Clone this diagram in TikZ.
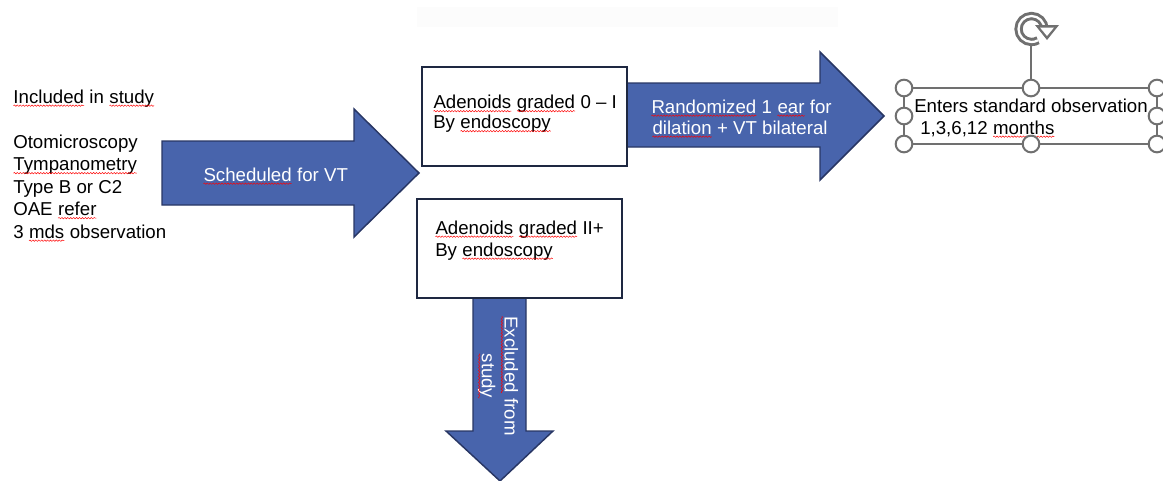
\documentclass[tikz,border=0pt]{standalone}
\usepackage{fontspec}
\setmainfont{Liberation Sans}
\usetikzlibrary{decorations.pathmorphing}
\definecolor{arrowblue}{RGB}{72,100,172}
\definecolor{arrowedge}{RGB}{40,54,100}
\definecolor{boxedge}{RGB}{30,40,65}
\definecolor{handlegray}{RGB}{112,112,112}
\definecolor{bandgray}{RGB}{252,252,252}
\newcommand\sq[1]{\tikz[baseline=(sqw.base),reset cm]{\node[inner sep=0pt,outer sep=0pt,draw=none,fill=none,anchor=base,rotate=0](sqw){#1};\draw[red,line width=0.35pt,decorate,decoration={snake,amplitude=0.55pt,segment length=2.2pt}]([yshift=-2pt]sqw.base west)--([yshift=-2pt]sqw.base east);}}
\begin{document}
\begin{tikzpicture}[x=0.75pt,y=-0.75pt,
  txt/.style={font=\fontsize{14}{17}\selectfont, inner sep=0pt, anchor=base west, text=black},
  wtxt/.style={font=\fontsize{14}{17}\selectfont, inner sep=0pt, anchor=base west, text=white},
  blockarrow/.style={fill=arrowblue, draw=arrowedge, line width=1.1pt, line join=miter},
  whitebox/.style={fill=white, draw=boxedge, line width=1.2pt},
  handle/.style={circle, fill=white, draw=handlegray, line width=1.5pt, minimum size=12.5pt, inner sep=0pt},
  selframe/.style={draw=handlegray, line width=0.9pt}]
\useasboundingbox (0,0) rectangle (1163,480);
\fill[bandgray] (417,7) rectangle (838,27);

% left text block
\node[txt] (inc) at (13,103) {\sq{Included} in \sq{study}};
\node[txt] (oto) at (13,148) {Otomicroscopy};
\node[txt] (tym) at (13,170.5) {\sq{Tympanometry}};
\node[txt] (typ) at (13,193) {Type B or C2};
\node[txt] (oae) at (13,215.5) {OAE \sq{refer}};
\node[txt] (mds) at (13,238) {3 \sq{mds} observation};

% arrow 1
\path[blockarrow] (162,141) -- (354,141) -- (354,109) -- (419,173) -- (354,237) -- (354,205) -- (162,205) -- cycle;
\node[wtxt] (sched) at (203,181) {\sq{Scheduled} for VT};

% arrow 2 (behind box 1)
\path[blockarrow] (620,83) -- (820,83) -- (820,52) -- (884,116) -- (820,180) -- (820,147) -- (620,147) -- cycle;
\node[wtxt] (rand1) at (651,113) {\sq{Randomized} 1 \sq{ear} for};
\node[wtxt] (rand2) at (652,134) {\sq{dilation} + VT bilateral};

% arrow 3 (behind box 2)
\path[blockarrow] (473,292) -- (473,431) -- (446,431) -- (500,481) -- (553,431) -- (526,431) -- (526,292) -- cycle;
\node[font=\fontsize{14}{17}\selectfont, text=white, inner sep=0pt, align=center, rotate=-90] (excl) at (498,376) {\sq{Excluded} from\\\sq{study}};

% box 1
\draw[whitebox] (422,67) rectangle (627,166);
\node[txt] (b1a) at (433,108.5) {\sq{Adenoids} \sq{graded} 0 -- I};
\node[txt] (b1b) at (433,128.5) {By \sq{endoscopy}};

% box 2
\draw[whitebox] (417,199) rectangle (622,298);
\node[txt] (b2a) at (435,234) {\sq{Adenoids} \sq{graded} II+};
\node[txt] (b2b) at (435,256) {By \sq{endoscopy}};

% selected text box
\draw[selframe] (904,88) rectangle (1157,144);
\node[txt] (ent1) at (914,112) {Enters standard observation};
\node[txt] (ent2) at (920,134) {1,3,6,12 \sq{months}};
\draw[handlegray, line width=1pt] (1031,46) -- (1031,88);
\foreach \hx/\hy [count=\i] in {904/88,1031/88,1157/88,904/116,1157/116,904/144,1031/144,1157/144}
  \node[handle] (h\i) at (\hx,\hy) {};
% rotation handle icon
\draw[handlegray, line width=6.2pt] (1044.5,29) arc[start angle=0, end angle=-300, radius=13];
\draw[white, line width=1.7pt] (1044.5,29) arc[start angle=0, end angle=-300, radius=13];
\fill[handlegray] (1035,25) -- (1059,25) -- (1047,40) -- cycle;
\fill[white] (1040,27.5) -- (1054,27.5) -- (1047,36) -- cycle;
\end{tikzpicture}
\end{document}
